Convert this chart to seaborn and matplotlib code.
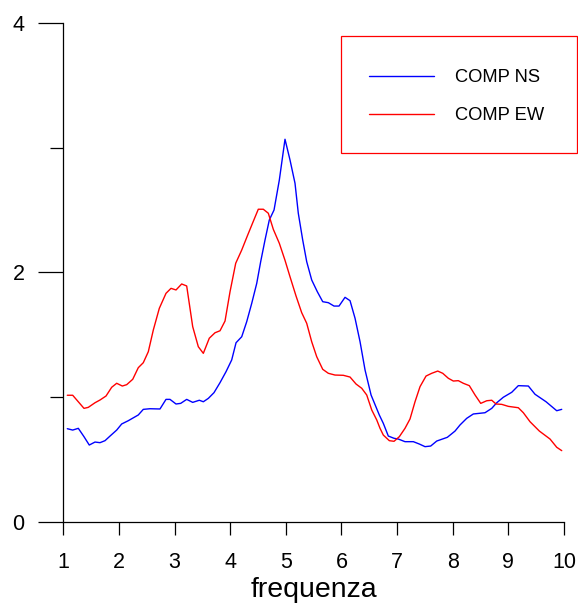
import matplotlib
matplotlib.use("Agg")
import matplotlib.pyplot as plt
from matplotlib.patches import Rectangle
import seaborn as sns
import pandas as pd

# Spectral ratio curves, frequency (Hz) vs amplitude
freq_ns = [1.072, 1.169, 1.270, 1.372, 1.467, 1.570, 1.660, 1.750, 1.840, 1.960,
           2.050, 2.168, 2.348, 2.438, 2.558, 2.738, 2.846, 2.918, 3.026, 3.110,
           3.218, 3.326, 3.445, 3.517, 3.607, 3.709, 3.817, 3.925, 4.027, 4.105,
           4.207, 4.297, 4.387, 4.477, 4.548, 4.626, 4.703, 4.788, 4.883, 4.985,
           5.075, 5.165, 5.224, 5.303, 5.375, 5.465, 5.566, 5.663, 5.764, 5.866,
           5.956, 6.064, 6.154, 6.244, 6.334, 6.424, 6.532, 6.680, 6.752, 6.842,
           6.945, 7.022, 7.142, 7.292, 7.400, 7.502, 7.604, 7.712, 7.903, 8.041,
           8.131, 8.251, 8.370, 8.580, 8.701, 8.791, 8.909, 9.061, 9.179, 9.359,
           9.479, 9.677, 9.869, 9.959]
amp_ns = [0.748, 0.737, 0.751, 0.684, 0.617, 0.641, 0.636, 0.652, 0.689, 0.737,
          0.786, 0.812, 0.858, 0.903, 0.908, 0.906, 0.983, 0.983, 0.946, 0.951,
          0.983, 0.959, 0.976, 0.964, 0.991, 1.037, 1.117, 1.205, 1.299, 1.437,
          1.485, 1.606, 1.753, 1.913, 2.087, 2.261, 2.421, 2.501, 2.741, 3.068,
          2.902, 2.715, 2.475, 2.261, 2.087, 1.940, 1.846, 1.766, 1.758, 1.731,
          1.731, 1.801, 1.774, 1.633, 1.445, 1.218, 1.018, 0.858, 0.791, 0.689,
          0.671, 0.665, 0.644, 0.644, 0.625, 0.604, 0.609, 0.649, 0.679, 0.729,
          0.778, 0.831, 0.866, 0.876, 0.911, 0.956, 1.000, 1.040, 1.093, 1.090,
          1.024, 0.964, 0.892, 0.903]

freq_ew = [1.072, 1.169, 1.372, 1.449, 1.570, 1.660, 1.768, 1.870, 1.960, 2.061,
           2.140, 2.248, 2.348, 2.438, 2.528, 2.618, 2.726, 2.846, 2.936, 3.026,
           3.128, 3.218, 3.326, 3.427, 3.517, 3.624, 3.727, 3.817, 3.907, 3.997,
           4.099, 4.207, 4.308, 4.405, 4.505, 4.595, 4.685, 4.775, 4.883, 4.985,
           5.075, 5.183, 5.285, 5.375, 5.465, 5.555, 5.663, 5.764, 5.884, 6.033,
           6.154, 6.262, 6.364, 6.454, 6.544, 6.634, 6.693, 6.752, 6.860, 6.945,
           7.040, 7.142, 7.232, 7.322, 7.412, 7.520, 7.622, 7.730, 7.820, 7.921,
           8.011, 8.100, 8.190, 8.298, 8.401, 8.503, 8.611, 8.701, 8.778, 8.881,
           8.999, 9.179, 9.269, 9.389, 9.557, 9.749, 9.869, 9.959]
amp_ew = [1.016, 1.016, 0.911, 0.919, 0.956, 0.978, 1.010, 1.080, 1.112, 1.090,
          1.101, 1.144, 1.237, 1.277, 1.365, 1.539, 1.713, 1.833, 1.873, 1.860,
          1.908, 1.892, 1.566, 1.405, 1.352, 1.473, 1.517, 1.533, 1.611, 1.846,
          2.074, 2.180, 2.293, 2.399, 2.507, 2.507, 2.475, 2.346, 2.234, 2.098,
          1.966, 1.812, 1.678, 1.593, 1.445, 1.325, 1.224, 1.192, 1.178, 1.176,
          1.162, 1.106, 1.072, 1.018, 0.898, 0.818, 0.751, 0.697, 0.652, 0.647,
          0.684, 0.751, 0.826, 0.964, 1.085, 1.170, 1.192, 1.210, 1.192, 1.152,
          1.130, 1.133, 1.112, 1.093, 1.018, 0.951, 0.972, 0.976, 0.946, 0.943,
          0.927, 0.916, 0.876, 0.804, 0.729, 0.665, 0.599, 0.572]

series_names = ["COMP NS", "COMP EW"]
series_colors = ["#0000ff", "#ff0000"]
x_ticks = list(range(1, 11))
y_major = [0, 2, 4]
y_minor = [1, 3]

df = pd.concat([
    pd.DataFrame({"frequenza": freq_ns, "ampiezza": amp_ns, "componente": series_names[0]}),
    pd.DataFrame({"frequenza": freq_ew, "ampiezza": amp_ew, "componente": series_names[1]}),
], ignore_index=True)

sns.set_theme(style="ticks")
plt.rcParams["font.family"] = ["Liberation Sans", "DejaVu Sans"]
plt.rcParams["text.color"] = "black"

W, H = 578, 603
fig = plt.figure(figsize=(W / 100, H / 100), dpi=100)
ax = fig.add_axes([0.1095, 0.1343, 0.8663, 0.8276])

sns.lineplot(data=df, x="frequenza", y="ampiezza", hue="componente",
             palette=dict(zip(series_names, series_colors)),
             estimator=None, sort=False, linewidth=1.0, legend=False, ax=ax)

ax.set_xlim(1, 10)
ax.set_ylim(0, 4)
ax.set_autoscale_on(False)
ax.set_xticks(x_ticks)
ax.set_xticklabels([str(t) for t in x_ticks])
ax.set_yticks(y_major)
ax.set_yticklabels([str(t) for t in y_major])
ax.set_yticks(y_minor, minor=True)

for side in ("top", "right"):
    ax.spines[side].set_visible(False)
for side in ("left", "bottom"):
    ax.spines[side].set_color("black")
    ax.spines[side].set_linewidth(0.9)

ax.tick_params(axis="x", which="major", direction="out", length=9.4, width=0.9,
               color="black", pad=12, labelsize=15.5, labelcolor="black")
ax.tick_params(axis="y", which="major", direction="out", length=18, width=0.9,
               color="black", pad=10, labelsize=15.5, labelcolor="black")
ax.tick_params(axis="y", which="minor", direction="out", length=9.4, width=0.9,
               color="black")

ax.set_xlabel("frequenza", fontsize=20.5, labelpad=3, color="black")
ax.set_ylabel("")

# Red legend box, drawn in figure coordinates beneath the legend entries
box = Rectangle((341 / W, 1 - 153 / H), (577 - 341) / W, (153 - 36) / H,
                transform=fig.transFigure, facecolor="white", edgecolor="#ff0000",
                linewidth=0.9, zorder=4, clip_on=False)
ax.add_artist(box)

leg = ax.legend(handles=ax.get_lines()[:2], labels=series_names,
                loc="upper left", bbox_to_anchor=(341 / W, 1 - 41 / H),
                bbox_transform=fig.transFigure, fontsize=13.2, frameon=False,
                handlelength=3.5, handletextpad=1.15, labelspacing=1.12,
                borderpad=1.55, borderaxespad=0)
leg.set_zorder(5)
for txt in leg.get_texts():
    txt.set_color("black")

fig.savefig("out.png", dpi=100)
